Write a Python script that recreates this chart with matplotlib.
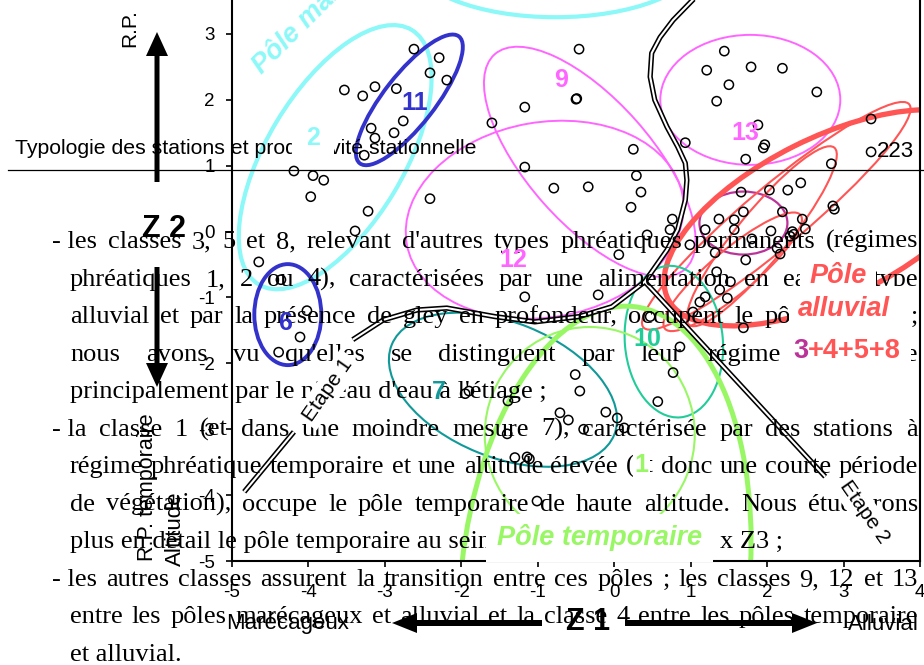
import matplotlib
matplotlib.use('Agg')
import matplotlib.pyplot as plt
from matplotlib.patches import Ellipse, FancyArrow
from matplotlib.transforms import Affine2D, IdentityTransform, ScaledTranslation
from matplotlib.lines import Line2D

plt.rcParams['font.family'] = ['Liberation Sans', 'DejaVu Sans']
plt.rcParams['axes.unicode_minus'] = False

# ------------------------------------------------------------------ data
x_ticks = [-5, -4, -3, -2, -1, 0, 1, 2, 3, 4]
y_ticks = [-5, -4, -3, -2, -1, 0, 1, 2, 3]

# station scores on axes Z1 (x) and Z2 (y)
pts_x = [-3.53, -3.29, -3.13, -2.85, -2.62, -2.29, -2.41, -2.19, -2.76, -3.18,
         -3.13, -2.88, -3.27, -4.19, -3.94, -3.80, -3.97, -3.22, -3.39, -2.41,
         -4.65, -4.36, -4.02, -4.11, -4.39,
         -0.46, -1.17, -0.50, -0.49, -1.60, 0.25, -1.17, -0.79, -0.34, 0.29,
         0.35, 0.22, 0.76, 0.73, 0.43, 0.06, 0.93, 0.99,
         1.44, 1.21, 1.79, 2.20, 1.50, 1.34, 2.65, 1.88, 1.97, 1.95,
         1.72, 3.36, 3.36, 2.84, 2.44, 2.27, 2.03, 1.66, 2.86, 2.88,
         1.69, 2.20, 2.46, 1.37, 1.57, 1.57, 1.19, 2.05, 2.50, 2.33,
         2.30, 2.35, 1.80, 2.13, 2.17, 1.32, 1.72, 1.34,
         1.52, 1.38, 1.48, 1.19, 1.12, 1.03, 0.47, 1.69, 0.86, 0.77,
         0.57, -1.17, -0.21, -0.51, -0.45, -0.71, -0.60, -0.11, 0.04, 0.13,
         -0.40, -1.90, -1.95, -1.39, -1.40, -1.30, -1.14, -1.11, -1.01]
pts_y = [2.15, 2.06, 2.20, 2.17, 2.77, 2.64, 2.41, 2.30, 1.68, 1.57,
         1.42, 1.50, 1.16, 0.92, 0.85, 0.78, 0.53, 0.31, 0.01, 0.50,
         -0.46, -0.73, -1.20, -1.60, -1.83,
         2.77, 1.89, 2.01, 2.02, 1.65, 1.25, 0.98, 0.66, 0.68, 0.85,
         0.60, 0.37, 0.19, 0.03, -0.05, -0.35, 1.35, -0.20,
         2.74, 2.45, 2.50, 2.48, 2.23, 1.98, 2.12, 1.62, 1.32, 1.27,
         1.10, 1.71, 1.21, 1.03, 0.74, 0.63, 0.63, 0.60, 0.39, 0.34,
         0.30, 0.30, 0.19, 0.19, 0.18, 0.03, 0.03, 0.01, 0.04, 0.00,
         -0.07, -0.04, -0.11, -0.25, -0.34, -0.32, -0.43, -0.61,
         -0.76, -0.88, -1.01, -0.99, -1.07, -1.22, -1.29, -1.46, -1.75, -2.14,
         -2.58, -0.99, -0.96, -2.17, -2.42, -2.75, -2.86, -2.74, -2.83, -2.98,
         -3.00, -2.42, -2.46, -2.57, -3.07, -3.43, -3.42, -3.45, -4.09]

# class numbers and their label positions
class_names = ['2', '11', '6', '9', '12', '13', '7', '10', '1']
class_x = [-3.94, -2.61, -4.31, -0.70, -1.32, 1.71, -2.30, 0.43, 0.36]
class_y = [1.42, 1.95, -1.39, 2.30, -0.43, 1.50, -2.43, -1.63, -3.54]

# stage boundaries (Etape 1 curve, Etape 2 line)
boundary_x = [-3.42, -3.02, -2.58, -2.19, -1.56, -1.04, -0.46, -0.03, 0.40,
              0.69, 0.83, 0.93, 0.95, 0.93, 0.83, 0.69, 0.53, 0.47, 0.49,
              0.60, 0.77, 1.03, 1.12]
boundary_y = [-1.64, -1.34, -1.19, -1.16, -1.29, -1.37, -1.29, -1.14, -0.76,
              -0.28, 0.03, 0.48, 0.78, 1.04, 1.29, 1.59, 2.00, 2.35, 2.71,
              2.95, 3.21, 3.52, 3.62]
etape1_x = [-4.84, -4.19]
etape1_y = [-3.95, -3.04]
etape2_x = [0.40, 2.76]
etape2_y = [-0.76, -3.72]

# ------------------------------------------------------------------ style
CYAN = '#8CF8F8'
BLUE = '#3333CC'
MAG = '#FF66FF'
PURP = '#BB3399'
RED = '#FF5555'
TEAL = '#119999'
MINT = '#22CC99'
GREEN = '#99F766'
class_colors = [CYAN, BLUE, BLUE, MAG, MAG, MAG, TEAL, MINT, GREEN]

# envelopes: centre (data), width/height (px), angle (deg), colour, lw
ENVELOPES = [
    (-3.65, 1.13, 297, 137, 59, CYAN, 3.0),
    (-0.77, 4.12, 284, 114, 0, CYAN, 3.0),
    (-2.68, 2.00, 161, 51, 52, BLUE, 2.8),
    (-4.27, -1.26, 67, 101, 0, BLUE, 2.8),
    (-0.32, 1.06, 287, 124, -48.5, MAG, 1.4),
    (-0.91, 0.18, 280, 195, 10, MAG, 1.4),
    (1.78, 2.00, 180, 130, 0, MAG, 1.4),
    (1.69, 0.13, 88, 63, 0, PURP, 1.6),
    (2.82, 0.21, 362, 160, 26.6, RED, 3.8),
    (2.12, 0.24, 347, 60, 40, RED, 1.5),
    (1.93, -0.07, 229, 50, 50.7, RED, 1.5),
    (1.55, -0.61, 177, 44, 40, RED, 1.5),
    (-1.455, -2.40, 240, 135, -22, TEAL, 1.5),
    (0.78, -1.67, 98, 152, 5, MINT, 1.5),
    (-0.12, -5.29, 288, 550, -6, GREEN, 3.6),
    (-0.32, -3.08, 210, 215, 0, GREEN, 1.5),
]

W, H = 924, 665
fig = plt.figure(figsize=(W / 100, H / 100), dpi=100)
pix = Affine2D().scale(1, -1).translate(0, H)   # image-pixel layout coords
renderer = fig.canvas.get_renderer()

ax = fig.add_axes([232 / W, 1 - 561 / H, (920 - 232) / W, 561 / H])
ax.patch.set_alpha(0)

for cx, cy, w, h, ang, col, lw in ENVELOPES:
    tr = IdentityTransform() + ScaledTranslation(cx, cy, ax.transData)
    ax.add_patch(Ellipse((0, 0), w, h, angle=ang, transform=tr, fill=False,
                         ec=col, lw=lw, zorder=2))

ax.scatter(pts_x, pts_y, s=44, facecolors='none', edgecolors='black',
           linewidths=1.1, zorder=3)

for bx, by in [(boundary_x, boundary_y), (etape1_x, etape1_y), (etape2_x, etape2_y)]:
    ax.plot(bx, by, color='black', lw=3.8, solid_capstyle='butt',
            solid_joinstyle='round', zorder=4)
    ax.plot(bx, by, color='white', lw=1.5, solid_capstyle='butt',
            solid_joinstyle='round', zorder=5)

ax.set_xlim(-5, 4)
ax.set_ylim(-5, 3.516)
ax.set_xticks(x_ticks)
ax.set_yticks(y_ticks)
ax.spines['top'].set_visible(False)
for s in ['left', 'right', 'bottom']:
    ax.spines[s].set_linewidth(1.5)
ax.tick_params(direction='out', length=4.5, width=1.2, labelsize=13.5)
ax.tick_params(axis='x', pad=12)
ax.tick_params(axis='y', pad=8)

# ------------------------------------------------------------------ texts on the chart
for name, x, y, c in zip(class_names, class_x, class_y, class_colors):
    kw = {}
    if name == '2':
        kw['bbox'] = dict(boxstyle='square,pad=0.55', fc='white', ec='none')
    if name == '1':
        kw['bbox'] = dict(boxstyle='square,pad=0.05', fc='white', ec='none')
    fig.text(x, y, name, transform=ax.transData, ha='center', va='center',
             color=c, fontsize=18, weight='bold', zorder=6, **kw)

fig.text(-4.61, 2.38, 'Pôle marécageux', transform=ax.transData, rotation=45,
         rotation_mode='anchor', ha='left', va='baseline', color=CYAN,
         fontsize=19.5, weight='bold', style='italic', zorder=6)

wbox = dict(boxstyle='square,pad=0.35', fc='white', ec='none')
fig.text(2.93, -0.67, 'Pôle', transform=ax.transData, ha='center', va='center',
         color=RED, fontsize=19.5, weight='bold', style='italic', bbox=wbox, zorder=6)
fig.text(3.01, -1.17, 'alluvial', transform=ax.transData, ha='center', va='center',
         color=RED, fontsize=19.5, weight='bold', style='italic', bbox=wbox, zorder=6)
fig.text(2.34, -1.81, '3+4+5+8', transform=ax.transData, ha='left',
         va='center', color='none', fontsize=19.5, weight='bold',
         bbox=dict(boxstyle='square,pad=0.35', fc='white', ec='none'), zorder=6)
t3 = fig.text(2.34, -1.81, '3', transform=ax.transData, ha='left', va='center',
              color=PURP, fontsize=19.5, weight='bold', zorder=7)
w3 = t3.get_window_extent(renderer).width
fig.text(2.34, -1.81, '+4+5+8', transform=ax.transData + Affine2D().translate(w3, 0),
         ha='left', va='center', color=RED, fontsize=19.5, weight='bold', zorder=7)

fig.text(-0.19, -4.65, 'Pôle temporaire', transform=ax.transData, ha='center',
         va='center', color=GREEN, fontsize=19.5, weight='bold', style='italic',
         bbox=dict(boxstyle='square,pad=0.4', fc='white', ec='none'), zorder=6)

ebox = dict(boxstyle='square,pad=0.2', fc='white', ec='none')
fig.text(-3.74, -2.40, 'Etape 1', transform=ax.transData, rotation=55,
         rotation_mode='anchor', ha='center', va='center', fontsize=15,
         bbox=ebox, zorder=6)
fig.text(3.27, -4.25, 'Etape 2', transform=ax.transData, rotation=-55,
         rotation_mode='anchor', ha='center', va='center', fontsize=15,
         bbox=ebox, zorder=6)
fig.text(3.44, 1.21, '223', transform=ax.transData, ha='left', va='center',
         fontsize=16, zorder=6)

# ------------------------------------------------------------------ axis legends / arrows
fig.add_artist(Line2D([8, 924], [170, 170], transform=pix, color='black', lw=0.9, zorder=3))
fig.text(15, 154, 'Typologie des stations et productivité stationnelle', transform=pix,
         fontsize=15.3, va='baseline', zorder=3)
fig.text(130, 47, 'R.P.', transform=pix, rotation=90, ha='center', va='bottom', fontsize=15)
fig.text(147, 561, 'R.P. temporaire', transform=pix, rotation=90, ha='center',
         va='bottom', fontsize=15.5)
fig.text(175, 566, 'Altitude', transform=pix, rotation=90, ha='center', va='bottom',
         fontsize=16)
fig.text(164, 229, 'Z 2', transform=pix, ha='center', va='center', fontsize=22,
         weight='bold', zorder=5)
fig.text(588, 622, 'Z 1', transform=pix, ha='center', va='center', fontsize=22,
         weight='bold', zorder=5)
fig.text(288, 624, 'Marécageux', transform=pix, ha='center', va='center', fontsize=16)
fig.text(883, 624, 'Alluvial', transform=pix, ha='center', va='center', fontsize=16)

akw = dict(color='black', length_includes_head=True, transform=pix, zorder=5, lw=0)
fig.add_artist(FancyArrow(157, 182, 0, -150, width=5, head_width=22, head_length=24, **akw))
fig.add_artist(FancyArrow(157, 267, 0, 120, width=5, head_width=22, head_length=24, **akw))
fig.add_artist(FancyArrow(542, 623, -150, 0, width=6, head_width=20, head_length=25, **akw))
fig.add_artist(FancyArrow(625, 623, 192, 0, width=6, head_width=20, head_length=25, **akw))

# ------------------------------------------------------------------ paragraph text (overlaid page)
SERIF = 'Liberation Serif'
FS = 19
PARA = [
    ("- les classes 3, 5 et 8, relevant d'autres types phréatiques permanents (régimes", 52, 248, True),
    ("phréatiques 1, 2 ou 4), caractérisées par une alimentation en eau de type", 70, 286, True),
    ("alluvial et par la présence de gley en profondeur, occupent le pôle alluvial ;", 70, 323, True),
    ("nous avons vu qu'elles se distinguent par leur régime phréatique", 70, 361, True),
    ("principalement par le niveau d'eau à l'étiage ;", 70, 398, False),
    ("- la classe 1 (et dans une moindre mesure 7), caractérisée par des stations à", 52, 436, True),
    ("régime phréatique temporaire et une altitude élevée (et donc une courte période", 70, 473, True),
    ("de végétation), occupe le pôle temporaire de haute altitude. Nous étudierons", 70, 511, True),
    ("plus en détail le pôle temporaire au sein de l'a", 70, 548, False),
    ("x Z3 ;", 720, 548, False),
    ("- les autres classes assurent la transition entre ces pôles ; les classes 9, 12 et 13", 52, 586, True),
    ("entre les pôles marécageux et alluvial et la classe 4 entre les pôles temporaire", 70, 623, True),
    ("et alluvial.", 70, 661, False),
]
X_RIGHT = 918
for line, x0, y, just in PARA:
    tkw = dict(transform=pix, fontsize=FS, family=SERIF, va='baseline', zorder=4)
    if not just:
        fig.text(x0, y, line, **tkw)
        continue
    words = line.split(' ')
    if words[0] == '-':
        words = ['- ' + words[1]] + words[2:]
    ts = [fig.text(0, y, w, **tkw) for w in words]
    ws = [t.get_window_extent(renderer).width for t in ts]
    gap = (X_RIGHT - x0 - sum(ws)) / (len(ws) - 1)
    x = x0
    for t, w in zip(ts, ws):
        t.set_x(x)
        x += w + gap

fig.savefig('out.png', dpi=100)
